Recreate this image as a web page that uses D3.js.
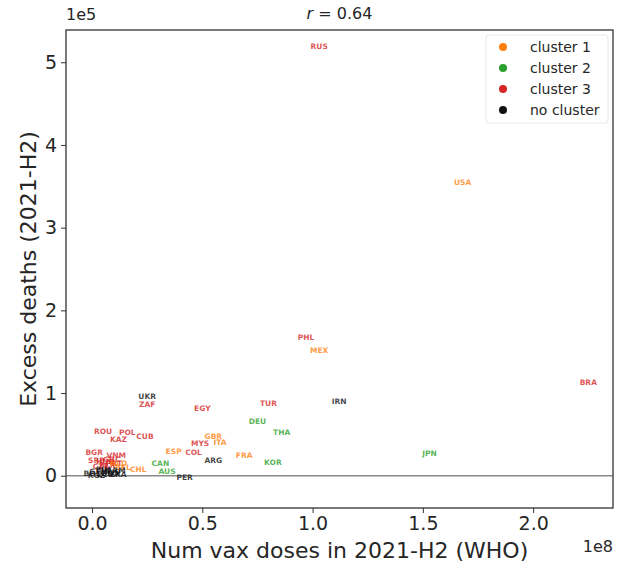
<!DOCTYPE html>
<html>
<head>
<meta charset="utf-8">
<script src="https://cdn.jsdelivr.net/npm/d3@7"></script>
<style>
  body { margin: 0; background: #fff; }
  svg { display: block; font-family: "DejaVu Sans", sans-serif; }
</style>
</head>
<body>
<div id="chart"></div>
<script>
// ---- data ----
const countries = ["RUS","USA","PHL","MEX","BRA","IRN","UKR","ZAF","EGY","TUR","DEU","THA","JPN","KOR","FRA","GBR","ITA","MYS","COL","ESP","ARG","CAN","AUS","PER","CHL","ROU","POL","KAZ","CUB","BGR","VNM","SRB","HUN","GRC","CZE","BLR","PRT","NLD","BEL","BOL","GTM","ECU","TUN","LKA","KGZ","BIH","GEO","ARM"];
const clusters  = [3,1,3,1,3,0,0,3,3,3,2,2,2,2,1,1,1,3,3,1,0,2,2,0,1,3,3,3,3,3,3,3,3,3,3,3,3,1,1,0,0,0,0,0,0,0,0,0];
const vaxDoses  = [1.03,1.68,0.97,1.03,2.25,1.12,0.25,0.25,0.50,0.80,0.75,0.86,1.53,0.82,0.69,0.55,0.58,0.49,0.46,0.37,0.55,0.31,0.34,0.42,0.21,0.05,0.16,0.12,0.24,0.01,0.11,0.02,0.06,0.09,0.04,0.07,0.10,0.12,0.14,0.00,0.03,0.06,0.09,0.12,0.02,0.05,0.08,0.11]; // x 1e8
const excessDeaths = [5.19,3.55,1.67,1.51,1.13,0.90,0.96,0.86,0.81,0.87,0.65,0.52,0.27,0.16,0.25,0.47,0.40,0.39,0.28,0.29,0.19,0.15,0.05,-0.02,0.07,0.54,0.52,0.44,0.47,0.28,0.25,0.19,0.17,0.20,0.11,0.12,0.15,0.15,0.10,0.03,0.05,0.02,0.04,0.01,0.00,0.07,0.03,0.06]; // x 1e5
const clusterNames = ["cluster 1","cluster 2","cluster 3","no cluster"];
const clusterIds = [1,2,3,0];
const clusterColors = {1:"#ff7f0e", 2:"#2ca02c", 3:"#d62728", 0:"#111111"};
const xTicks = [0, 0.5e8, 1.0e8, 1.5e8, 2.0e8];
const yTicks = [0, 1e5, 2e5, 3e5, 4e5, 5e5];

// ---- layout ----
const W = 624, H = 571;
const L = 66, R = 613, T = 30, B = 508;

const svg = d3.select("#chart").append("svg").attr("width", W).attr("height", H);

const x = d3.scaleLinear().domain([-0.118e8, 2.362e8]).range([L, R]);
const y = d3.scaleLinear().domain([-0.39e5, 5.39e5]).range([B, T]);

// zero line
svg.append("line")
  .attr("x1", L).attr("x2", R).attr("y1", y(0)).attr("y2", y(0))
  .attr("stroke", "#8a8a8a").attr("stroke-width", 1.6);

// labels (points)
const pts = countries.map((c, i) => ({c, k: clusters[i], vx: vaxDoses[i]*1e8, ed: excessDeaths[i]*1e5}));
svg.append("g").selectAll("text").data(pts).join("text")
  .attr("x", d => x(d.vx)).attr("y", d => y(d.ed))
  .attr("text-anchor", "middle").attr("dominant-baseline", "central")
  .attr("font-size", 7.5).attr("font-weight", "bold")
  .attr("fill", d => clusterColors[d.k]).attr("fill-opacity", 0.8)
  .text(d => d.c);

// axes
const xAxis = d3.axisBottom(x).tickValues(xTicks).tickFormat(v => (v/1e8).toFixed(1)).tickSizeOuter(0).tickSize(5).tickPadding(4);
const yAxis = d3.axisLeft(y).tickValues(yTicks).tickFormat(v => d3.format("d")(v/1e5)).tickSizeOuter(0).tickSize(5).tickPadding(4);

const gx = svg.append("g").attr("transform", `translate(0,${B})`).call(xAxis);
const gy = svg.append("g").attr("transform", `translate(${L},0)`).call(yAxis);
[gx, gy].forEach(g => {
  g.select(".domain").remove();
  g.selectAll("line").attr("stroke", "#333");
  g.selectAll("text").attr("font-size", 19).attr("fill", "#262626").attr("font-family", "DejaVu Sans");
});

// frame
svg.append("rect").attr("x", L).attr("y", T).attr("width", R - L).attr("height", B - T)
  .attr("fill", "none").attr("stroke", "#333").attr("stroke-width", 1.3);

// axis labels
svg.append("text").attr("x", (L + R) / 2).attr("y", 558).attr("text-anchor", "middle")
  .attr("font-size", 22).attr("fill", "#262626").text("Num vax doses in 2021-H2 (WHO)");
svg.append("text").attr("transform", `translate(36,${(T + B) / 2}) rotate(-90)`).attr("text-anchor", "middle")
  .attr("font-size", 22).attr("fill", "#262626").text("Excess deaths (2021-H2)");

// offset texts
svg.append("text").attr("x", R).attr("y", 552).attr("text-anchor", "end")
  .attr("font-size", 16).attr("fill", "#262626").text("1e8");
svg.append("text").attr("x", L).attr("y", 20).attr("text-anchor", "start")
  .attr("font-size", 16).attr("fill", "#262626").text("1e5");

// title
const title = svg.append("text").attr("x", (L + R) / 2).attr("y", 19).attr("text-anchor", "middle")
  .attr("font-size", 16).attr("fill", "#262626");
title.append("tspan").attr("font-style", "italic").text("r");
title.append("tspan").text(" = 0.64");

// legend
const lg = svg.append("g");
lg.append("rect").attr("x", 486).attr("y", 35).attr("width", 122).attr("height", 88)
  .attr("fill", "#fff").attr("fill-opacity", 0.8).attr("stroke", "#e6e6e6").attr("rx", 3);
clusterIds.forEach((k, i) => {
  const yy = 47 + i * 21;
  lg.append("circle").attr("cx", 503).attr("cy", yy).attr("r", 4).attr("fill", clusterColors[k]);
  lg.append("text").attr("x", 530).attr("y", yy).attr("dominant-baseline", "central")
    .attr("font-size", 14).attr("fill", "#262626").text(clusterNames[i]);
});
</script>
</body>
</html>
